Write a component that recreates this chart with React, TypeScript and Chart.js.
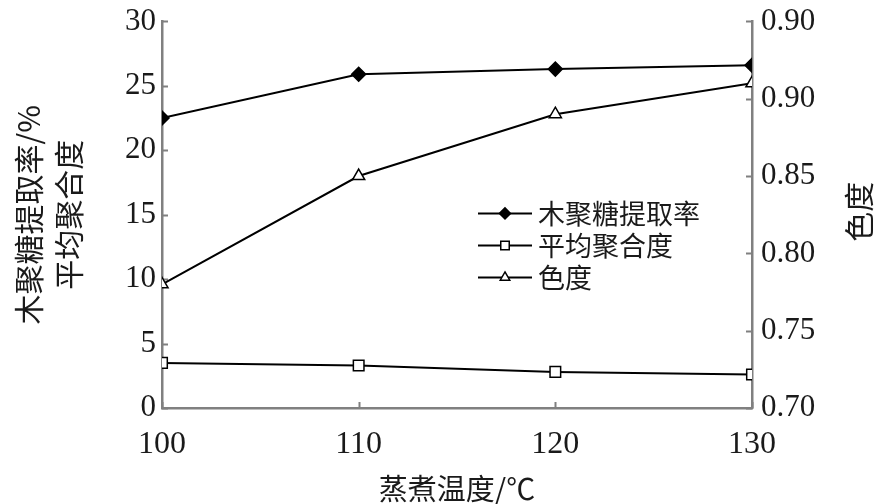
import React, { useEffect, useRef } from 'react';
import { Chart, registerables } from 'chart.js';
import { drawPoint } from 'chart.js/helpers';

Chart.register(...registerables);

// ---- data ----
const temperatures = [100, 110, 120, 130];
const xylanYield = [22.5, 25.9, 26.3, 26.6];
const avgDP = [3.5, 3.3, 2.8, 2.6];
const chroma = [0.78, 0.85, 0.89, 0.91];
const seriesNames = ['木聚糖提取率', '平均聚合度', '色度'];
const leftTickValues = [0, 5, 10, 15, 20, 25, 30];
const rightTickValues = [0.7, 0.75, 0.8, 0.85, 0.9, 0.95];
const rightTickLabels = ['0.70', '0.75', '0.80', '0.85', '0.90', '0.90'];
const xTickValues = [100, 110, 120, 130];
const leftTitle = ['木聚糖提取率/%', '平均聚合度'];
const rightTitle = '色度';
const xTitle = '蒸煮温度/℃';

const AXIS = '#808080';
const INK = '#1a1a1a';
const SERIF = '"Liberation Serif", "DejaVu Serif", serif';
const CJK = '"Noto Sans CJK SC", "Noto Sans", sans-serif';

const inwardTicks = {
  id: 'inwardTicks',
  beforeDatasetsDraw(chart: any) {
    const { ctx, chartArea: a } = chart;
    const L = 6;
    ctx.save();
    ctx.strokeStyle = AXIS;
    ctx.lineWidth = 2;
    ctx.beginPath();
    const y = chart.scales.y;
    y.ticks.forEach((t: any) => {
      const p = Math.round(y.getPixelForValue(t.value)) + 0.5;
      ctx.moveTo(a.left, p);
      ctx.lineTo(a.left + L, p);
    });
    const y1 = chart.scales.y1;
    y1.ticks.forEach((t: any) => {
      const p = Math.round(y1.getPixelForValue(t.value)) + 0.5;
      ctx.moveTo(a.right, p);
      ctx.lineTo(a.right - L, p);
    });
    const x = chart.scales.x;
    x.ticks.forEach((t: any) => {
      const p = Math.round(x.getPixelForValue(t.value)) + 0.5;
      ctx.moveTo(p, a.bottom);
      ctx.lineTo(p, a.bottom - L);
    });
    ctx.stroke();
    ctx.restore();
  },
};

const innerLegend = {
  id: 'innerLegend',
  afterDatasetsDraw(chart: any) {
    const { ctx, chartArea: a } = chart;
    const x0 = a.left + 316;
    const y0 = a.top + 192;
    const rowH = 32;
    ctx.save();
    chart.data.datasets.forEach((ds: any, i: number) => {
      const yy = y0 + i * rowH;
      ctx.strokeStyle = '#000';
      ctx.lineWidth = 2;
      ctx.beginPath();
      ctx.moveTo(x0, yy);
      ctx.lineTo(x0 + 54, yy);
      ctx.stroke();
      ctx.fillStyle = ds.pointBackgroundColor;
      ctx.strokeStyle = '#000';
      ctx.lineWidth = 1.5;
      drawPoint(ctx, { pointStyle: ds.pointStyle, radius: ds.pointRadius - 1.5, rotation: 0, borderWidth: 1.5 }, x0 + 27, yy);
      ctx.fillStyle = INK;
      ctx.font = `27px ${CJK}`;
      ctx.textAlign = 'left';
      ctx.textBaseline = 'middle';
      ctx.fillText(ds.label, x0 + 60, yy);
    });
    ctx.restore();
  },
};

const rightAxisTitle = {
  id: 'rightAxisTitle',
  afterDraw(chart: any) {
    const { ctx, chartArea: a } = chart;
    ctx.save();
    ctx.translate(chart.width - 21, (a.top + a.bottom) / 2 - 3);
    ctx.rotate(-Math.PI / 2);
    ctx.fillStyle = INK;
    ctx.font = `30px ${CJK}`;
    ctx.textAlign = 'center';
    ctx.textBaseline = 'middle';
    ctx.fillText(rightTitle, 0, 0);
    ctx.restore();
  },
};

export default function App() {
  const ref = useRef<HTMLCanvasElement | null>(null);

  useEffect(() => {
    if (!ref.current) return;
    const mk = (vals: number[]) => temperatures.map((t, i) => ({ x: t, y: vals[i] }));
    const common = {
      borderColor: '#000',
      borderWidth: 2,
      pointBorderColor: '#000',
      pointBorderWidth: 1.5,
      fill: false,
      tension: 0,
    };
    const chart = new Chart(ref.current, {
      type: 'line',
      data: {
        datasets: [
          { ...common, label: seriesNames[0], data: mk(xylanYield), yAxisID: 'y', pointStyle: 'rectRot', pointRadius: 7, pointBackgroundColor: '#000' },
          { ...common, label: seriesNames[1], data: mk(avgDP), yAxisID: 'y', pointStyle: 'rect', pointRadius: 7.5, pointBackgroundColor: '#fff' },
          { ...common, label: seriesNames[2], data: mk(chroma), yAxisID: 'y1', pointStyle: 'triangle', pointRadius: 7, pointBackgroundColor: '#fff' },
        ] as any,
      },
      options: {
        animation: false,
        responsive: false,
        layout: { padding: { top: 20, left: 0, right: 0, bottom: 0 } },
        plugins: { legend: { display: false }, tooltip: { enabled: false } },
        scales: {
          x: {
            type: 'linear',
            min: 100,
            max: 130,
            afterBuildTicks: (s: any) => { s.ticks = xTickValues.map((v) => ({ value: v })); },
            afterFit: (s: any) => { s.height = 96; },
            grid: { display: false, drawTicks: false },
            border: { display: true, color: AXIS, width: 2.5 },
            ticks: { color: INK, font: { family: SERIF, size: 32 }, padding: 17, maxRotation: 0, autoSkip: false },
            title: { display: true, text: xTitle, color: INK, font: { family: CJK, size: 29, lineHeight: 1 }, padding: { top: 0, bottom: 1 } },
          },
          y: {
            type: 'linear',
            position: 'left',
            min: 0,
            max: 30,
            afterBuildTicks: (s: any) => { s.ticks = leftTickValues.map((v) => ({ value: v })); },
            afterFit: (s: any) => { s.width = 162; },
            grid: { display: false, drawTicks: false },
            border: { display: true, color: AXIS, width: 2.5 },
            ticks: { color: INK, font: { family: SERIF, size: 31, lineHeight: 0.8 }, padding: 6 },
            title: { display: true, text: leftTitle, color: INK, font: { family: CJK, size: 30, lineHeight: 1.33 }, padding: { top: 9, bottom: 0 } },
          },
          y1: {
            type: 'linear',
            position: 'right',
            min: 0.7,
            max: 0.95,
            afterBuildTicks: (s: any) => { s.ticks = rightTickValues.map((v) => ({ value: v })); },
            afterFit: (s: any) => { s.width = 128; },
            grid: { display: false, drawTicks: false },
            border: { display: true, color: AXIS, width: 2.5 },
            ticks: {
              color: INK,
              font: { family: SERIF, size: 31, lineHeight: 0.8 },
              padding: 9,
              callback: (_v: any, i: number) => rightTickLabels[i],
            },
          },
        },
      } as any,
      plugins: [inwardTicks, innerLegend, rightAxisTitle],
    });
    return () => chart.destroy();
  }, []);

  return (
    <div style={{ position: 'fixed', left: 0, top: 0, width: 880, height: 504, background: '#fff' }}>
      <canvas ref={ref} width={880} height={504} style={{ display: 'block' }} />
    </div>
  );
}
